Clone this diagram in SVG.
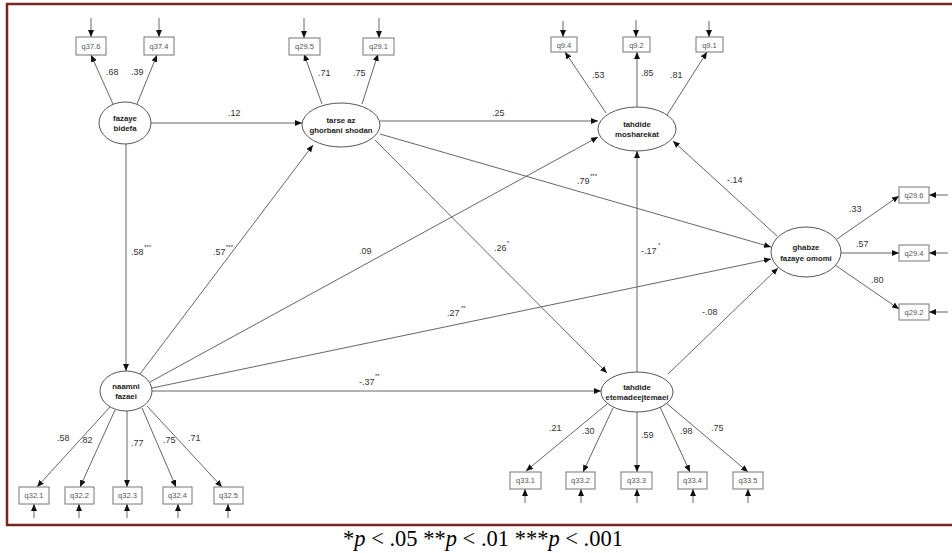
<svg xmlns="http://www.w3.org/2000/svg" width="952" height="553" viewBox="0 0 952 553">
<defs>
<marker id="ah" markerUnits="userSpaceOnUse" markerWidth="7" markerHeight="6" refX="7" refY="3" orient="auto">
<path d="M0,0 L7,3 L0,6 z" fill="#111"/>
</marker>
<style>
.c{stroke:#666;stroke-width:1;fill:none;marker-end:url(#ah)}
.lat{fill:#fff;stroke:#555;stroke-width:1}
.obs{fill:#fff;stroke:#777;stroke-width:1}
.lt{font-family:"Liberation Sans",Arial,sans-serif;font-size:7.8px;font-weight:bold;fill:#222;text-anchor:middle}
.ot{font-family:"Liberation Sans",Arial,sans-serif;font-size:7.5px;fill:#555;text-anchor:middle}
.pl{font-family:"Liberation Sans",Arial,sans-serif;font-size:9px;fill:#333}
.st{font-family:"Liberation Sans",Arial,sans-serif;font-size:6px;fill:#333}
.cap{font-family:"Liberation Serif","Times New Roman",serif;font-size:22.5px;fill:#000}
</style>
</defs>
<rect width="952" height="553" fill="#fff"/>
<rect x="7" y="4" width="960" height="521" fill="none" stroke="#7a2424" stroke-width="2.5"/>

<g id="connectors">
<!-- error arrows top -->
<line class="c" x1="91" y1="18" x2="91" y2="37"/>
<line class="c" x1="159" y1="18" x2="159" y2="37"/>
<line class="c" x1="304" y1="18" x2="304" y2="38"/>
<line class="c" x1="379" y1="18" x2="379" y2="38"/>
<line class="c" x1="563" y1="21" x2="563" y2="37"/>
<line class="c" x1="636" y1="20" x2="636" y2="37"/>
<line class="c" x1="709" y1="21" x2="709" y2="37"/>
<!-- error arrows right -->
<line class="c" x1="948" y1="195" x2="929" y2="195"/>
<line class="c" x1="948" y1="253" x2="929" y2="253"/>
<line class="c" x1="948" y1="312" x2="929" y2="312"/>
<!-- error arrows bottom -->
<line class="c" x1="34" y1="518" x2="34" y2="504"/>
<line class="c" x1="79" y1="518" x2="79" y2="504"/>
<line class="c" x1="127" y1="518" x2="127" y2="504"/>
<line class="c" x1="178" y1="518" x2="178" y2="504"/>
<line class="c" x1="228" y1="518" x2="228" y2="504"/>
<line class="c" x1="525" y1="503" x2="525" y2="489"/>
<line class="c" x1="581" y1="503" x2="581" y2="489"/>
<line class="c" x1="637" y1="503" x2="637" y2="489"/>
<line class="c" x1="693" y1="503" x2="693" y2="489"/>
<line class="c" x1="748" y1="503" x2="748" y2="489"/>
<!-- loadings -->
<line class="c" x1="113" y1="104" x2="91" y2="55"/>
<line class="c" x1="137" y1="104" x2="157" y2="55"/>
<line class="c" x1="322" y1="104" x2="304" y2="54"/>
<line class="c" x1="362" y1="104" x2="378" y2="54"/>
<line class="c" x1="606" y1="113" x2="565" y2="52"/>
<line class="c" x1="637" y1="107" x2="637" y2="52"/>
<line class="c" x1="667" y1="115" x2="707" y2="52"/>
<line class="c" x1="837" y1="239" x2="899" y2="196"/>
<line class="c" x1="841" y1="253" x2="899" y2="253"/>
<line class="c" x1="835" y1="265" x2="899" y2="309"/>
<line class="c" x1="110" y1="407" x2="37" y2="487"/>
<line class="c" x1="115" y1="410" x2="80" y2="487"/>
<line class="c" x1="127" y1="411" x2="127" y2="487"/>
<line class="c" x1="142" y1="408" x2="176" y2="487"/>
<line class="c" x1="147" y1="406" x2="222" y2="487"/>
<line class="c" x1="607" y1="404" x2="526" y2="471"/>
<line class="c" x1="613" y1="408" x2="583" y2="472"/>
<line class="c" x1="637" y1="412" x2="637" y2="472"/>
<line class="c" x1="660" y1="407" x2="690" y2="472"/>
<line class="c" x1="665" y1="402" x2="748" y2="472"/>
<!-- structural paths -->
<line class="c" x1="151" y1="123" x2="302" y2="123"/>
<line class="c" x1="126" y1="144" x2="126" y2="371"/>
<line class="c" x1="380" y1="121" x2="598" y2="121"/>
<line class="c" x1="380" y1="134" x2="771" y2="247"/>
<line class="c" x1="375" y1="140" x2="607" y2="373"/>
<line class="c" x1="140" y1="374" x2="313" y2="145"/>
<line class="c" x1="150" y1="382" x2="598" y2="137"/>
<line class="c" x1="152" y1="388" x2="771" y2="259"/>
<line class="c" x1="152" y1="391" x2="601" y2="391"/>
<line class="c" x1="637" y1="372" x2="637" y2="151"/>
<line class="c" x1="777" y1="236" x2="673" y2="141"/>
<line class="c" x1="668" y1="374" x2="778" y2="268"/>
</g>

<g id="labels">
<text class="pl" x="106" y="75">.68</text>
<text class="pl" x="131" y="75">.39</text>
<text class="pl" x="228" y="116">.12</text>
<text class="pl" x="131" y="255">.58</text><text class="st" x="144" y="249">***</text>
<text class="pl" x="318" y="76">.71</text>
<text class="pl" x="353" y="76">.75</text>
<text class="pl" x="492" y="116">.25</text>
<text class="pl" x="577" y="184">.79</text><text class="st" x="590" y="178">***</text>
<text class="pl" x="592" y="78">.53</text>
<text class="pl" x="641" y="76">.85</text>
<text class="pl" x="670" y="78">.81</text>
<text class="pl" x="727" y="183">-.14</text>
<text class="pl" x="849" y="212">.33</text>
<text class="pl" x="856" y="247">.57</text>
<text class="pl" x="871" y="283">.80</text>
<text class="pl" x="702" y="315">-.08</text>
<text class="pl" x="641" y="254">-.17</text><text class="st" x="658" y="247">*</text>
<text class="pl" x="213" y="255">.57</text><text class="st" x="226" y="249">***</text>
<text class="pl" x="359" y="254">.09</text>
<text class="pl" x="494" y="251">.26</text><text class="st" x="507" y="245">*</text>
<text class="pl" x="447" y="316">.27</text><text class="st" x="461" y="310">**</text>
<text class="pl" x="359" y="385">-.37</text><text class="st" x="375" y="378">**</text>
<text class="pl" x="57" y="441">.58</text>
<text class="pl" x="80" y="443">.82</text>
<text class="pl" x="131" y="446">.77</text>
<text class="pl" x="163" y="443">.75</text>
<text class="pl" x="188" y="441">.71</text>
<text class="pl" x="549" y="431">.21</text>
<text class="pl" x="582" y="434">.30</text>
<text class="pl" x="641" y="438">.59</text>
<text class="pl" x="680" y="434">.98</text>
<text class="pl" x="711" y="431">.75</text>
</g>

<g id="fazaye_bidefa"><ellipse class="lat" cx="125" cy="123" rx="26" ry="21"/><text class="lt" x="125" y="121">fazaye</text><text class="lt" x="125" y="131">bidefa</text></g>
<g id="tarse_az_ghorbani_shodan"><ellipse class="lat" cx="341" cy="125" rx="39" ry="22"/><text class="lt" x="341" y="123">tarse az</text><text class="lt" x="341" y="133">ghorbani shodan</text></g>
<g id="tahdide_mosharekat"><ellipse class="lat" cx="637" cy="129" rx="39" ry="22"/><text class="lt" x="637" y="127">tahdide</text><text class="lt" x="637" y="137">mosharekat</text></g>
<g id="ghabze_fazaye_omomi"><ellipse class="lat" cx="806" cy="252" rx="35" ry="25"/><text class="lt" x="806" y="250">ghabze</text><text class="lt" x="806" y="261">fazaye omomi</text></g>
<g id="naamni_fazaei"><ellipse class="lat" cx="126" cy="391" rx="26" ry="20"/><text class="lt" x="126" y="389">naamni</text><text class="lt" x="126" y="399">fazaei</text></g>
<g id="tahdide_etemadeejtemaei"><ellipse class="lat" cx="637" cy="392" rx="36" ry="20"/><text class="lt" x="637" y="390">tahdide</text><text class="lt" x="637" y="400">etemadeejtemaei</text></g>

<g id="q37_6"><rect class="obs" x="76" y="37" width="30" height="18"/><text class="ot" x="91" y="49">q37.6</text></g>
<g id="q37_4"><rect class="obs" x="144" y="37" width="30" height="18"/><text class="ot" x="159" y="49">q37.4</text></g>
<g id="q29_5"><rect class="obs" x="289" y="38" width="31" height="17"/><text class="ot" x="304.5" y="49">q29.5</text></g>
<g id="q29_1"><rect class="obs" x="363" y="38" width="31" height="17"/><text class="ot" x="378.5" y="49">q29.1</text></g>
<g id="q9_4"><rect class="obs" x="551" y="37" width="26" height="15"/><text class="ot" x="564" y="47.5">q9.4</text></g>
<g id="q9_2"><rect class="obs" x="623" y="37" width="27" height="15"/><text class="ot" x="636.5" y="47.5">q9.2</text></g>
<g id="q9_1"><rect class="obs" x="696" y="37" width="27" height="15"/><text class="ot" x="709.5" y="47.5">q9.1</text></g>
<g id="q29_6"><rect class="obs" x="899" y="187" width="30" height="16"/><text class="ot" x="914" y="197.5">q29.6</text></g>
<g id="q29_4"><rect class="obs" x="899" y="245" width="30" height="16"/><text class="ot" x="914" y="255.5">q29.4</text></g>
<g id="q29_2"><rect class="obs" x="899" y="304" width="30" height="16"/><text class="ot" x="914" y="314.5">q29.2</text></g>
<g id="q32_1"><rect class="obs" x="19" y="487" width="30" height="17"/><text class="ot" x="34" y="498">q32.1</text></g>
<g id="q32_2"><rect class="obs" x="65" y="487" width="29" height="17"/><text class="ot" x="79.5" y="498">q32.2</text></g>
<g id="q32_3"><rect class="obs" x="113" y="487" width="29" height="17"/><text class="ot" x="127.5" y="498">q32.3</text></g>
<g id="q32_4"><rect class="obs" x="163" y="487" width="29" height="17"/><text class="ot" x="177.5" y="498">q32.4</text></g>
<g id="q32_5"><rect class="obs" x="214" y="487" width="29" height="17"/><text class="ot" x="228.5" y="498">q32.5</text></g>
<g id="q33_1"><rect class="obs" x="510" y="472" width="31" height="17"/><text class="ot" x="525.5" y="483">q33.1</text></g>
<g id="q33_2"><rect class="obs" x="566" y="472" width="29" height="17"/><text class="ot" x="580.5" y="483">q33.2</text></g>
<g id="q33_3"><rect class="obs" x="621" y="472" width="31" height="17"/><text class="ot" x="636.5" y="483">q33.3</text></g>
<g id="q33_4"><rect class="obs" x="678" y="472" width="29" height="17"/><text class="ot" x="692.5" y="483">q33.4</text></g>
<g id="q33_5"><rect class="obs" x="733" y="472" width="30" height="17"/><text class="ot" x="748" y="483">q33.5</text></g>

<text class="cap" x="483" y="546" text-anchor="middle">*<tspan font-style="italic">p</tspan> &lt; .05 **<tspan font-style="italic">p</tspan> &lt; .01 ***<tspan font-style="italic">p</tspan> &lt; .001</text>
</svg>
